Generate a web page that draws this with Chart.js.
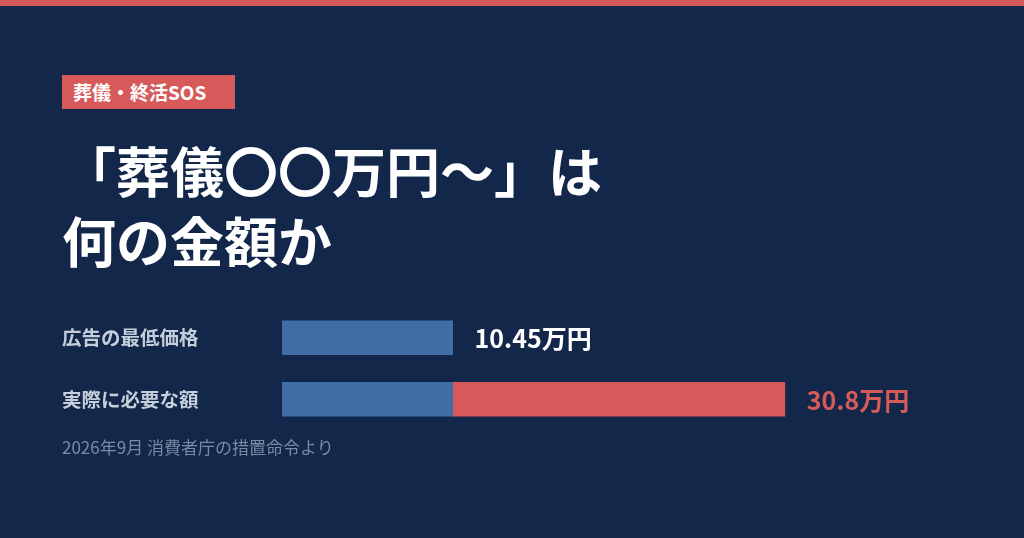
<!DOCTYPE html>
<html lang="ja">
<head>
<meta charset="utf-8">
<script src="https://cdn.jsdelivr.net/npm/chart.js@4"></script>
<style>
  html, body { margin: 0; padding: 0; }
  body { width: 1024px; height: 538px; background: #12274a; position: relative; overflow: hidden;
         font-family: "Noto Sans CJK JP", "Noto Sans", sans-serif; }
  #stripe { position: absolute; left: 0; top: 0; width: 1024px; height: 6px; background: #d65a5a; }
  #badge { position: absolute; left: 62px; top: 75px; width: 173px; height: 34px; background: #d65a5a;
           color: #fff; font-weight: 700; font-size: 19px; line-height: 34px; padding-left: 11px; box-sizing: border-box; white-space: nowrap; }
  #title { position: absolute; left: 62px; top: 135px; color: #fff; font-weight: 700; font-size: 54px; line-height: 70px; white-space: nowrap; }
  #source { position: absolute; left: 62px; top: 436px; color: #7a8aa3; font-size: 17px; line-height: 22px; white-space: nowrap; }
  #chartWrap { position: absolute; left: 0; top: 0; width: 1024px; height: 538px; }
</style>
</head>
<body>
<div id="stripe"></div>
<div id="badge">葬儀・終活SOS</div>
<div id="title">「葬儀〇〇万円～」は<br>何の金額か</div>
<div id="chartWrap"><canvas id="c" width="1024" height="538"></canvas></div>
<div id="source">2026年9月 消費者庁の措置命令より</div>
<script>
const categories = ["広告の最低価格", "実際に必要な額"];
const advertised = [10.45, 10.45];
const hiddenCost = [0, 20.35];
const totals = [10.45, 30.8];
const totalLabels = ["10.45万円", "30.8万円"];
const labelColors = ["#ffffff", "#d65a5a"];

const FONT = '"Noto Sans CJK JP", "Noto Sans", sans-serif';

const valueLabels = {
  id: 'valueLabels',
  afterDatasetsDraw(chart) {
    const ctx = chart.ctx;
    const xs = chart.scales.x, ys = chart.scales.y;
    ctx.save();
    ctx.font = '700 25px ' + FONT;
    ctx.textBaseline = 'middle';
    ctx.textAlign = 'left';
    totals.forEach((t, i) => {
      ctx.fillStyle = labelColors[i];
      ctx.fillText(totalLabels[i], xs.getPixelForValue(t) + 22, ys.getPixelForValue(i) + 1);
    });
    ctx.restore();
  }
};

new Chart(document.getElementById('c'), {
  type: 'bar',
  data: {
    labels: categories,
    datasets: [
      { label: '広告価格', data: advertised, backgroundColor: '#3f6ea6', barThickness: 34, borderWidth: 0 },
      { label: '追加費用', data: hiddenCost, backgroundColor: '#d65a5a', barThickness: 34, borderWidth: 0 }
    ]
  },
  options: {
    indexAxis: 'y',
    responsive: false,
    animation: false,
    layout: { padding: { left: 62, top: 307, bottom: 108, right: 89 } },
    plugins: { legend: { display: false }, tooltip: { enabled: false } },
    scales: {
      x: { stacked: true, min: 0, max: 40, display: false },
      y: {
        stacked: true,
        grid: { display: false },
        border: { display: false },
        ticks: { color: '#c5cedb', font: { family: FONT, size: 19.5, weight: '700' }, crossAlign: 'far', padding: 0 },
        afterFit(scale) { scale.width = 220; }
      }
    }
  },
  plugins: [valueLabels]
});
</script>
</body>
</html>
